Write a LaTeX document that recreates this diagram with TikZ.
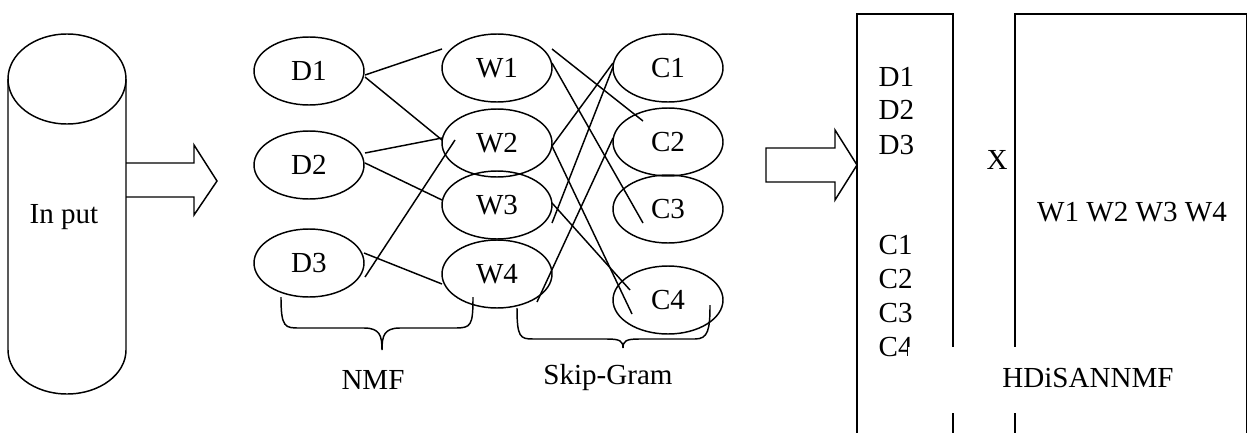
\documentclass[tikz,border=0pt]{standalone}
\usepackage{fontspec}
\setmainfont{Liberation Serif}
\usetikzlibrary{shapes.geometric}
\begin{document}
\begin{tikzpicture}[x=0.75pt,y=-0.75pt,line width=1.1pt,
  every node/.style={font=\fontsize{21.8}{26}\selectfont},
  oval/.style={draw,ellipse,minimum width=82.5pt,minimum height=51pt,inner sep=0pt},
  conn/.style={line width=1.1pt},
  lbl/.style={inner sep=0pt,anchor=west}]
\useasboundingbox (0,0) rectangle (1248,432);
% cylinder
\draw (67,79) ellipse [x radius=59,y radius=45];
\draw (8,79) -- (8,350) arc[start angle=180,end angle=360,x radius=59,y radius=-44] -- (126,79);
\node (inp) at (64,217) {In put};
% arrow 1
\draw (126,163) -- (194,163) -- (194,145) -- (217,181) -- (194,215) -- (194,197) -- (126,197);
% ellipses
\node[oval] (D1) at (309,71) {D1};
\node[oval] (D2) at (309,165) {D2};
\node[oval] (D3) at (309,263) {D3};
\node[oval] (W1) at (497,68) {W1};
\node[oval] (W2) at (497,143) {W2};
\node[oval] (W3) at (497,205) {W3};
\node[oval] (W4) at (497,274) {W4};
\node[oval] (C1) at (668,68) {C1};
\node[oval] (C2) at (668,142) {C2};
\node[oval] (C3) at (668,209) {C3};
\node[oval] (C4) at (668,300) {C4};
% NMF connectors
\draw[conn] ([shift={(56,4)}]D1.center) -- ([shift={(-55,-19)}]W1.center);
\draw[conn] ([shift={(56,6)}]D1.center) -- ([shift={(-55,-3)}]W2.center);
\draw[conn] ([shift={(56,-12)}]D2.center) -- ([shift={(-55,-5)}]W2.center);
\draw[conn] ([shift={(56,-2)}]D2.center) -- ([shift={(-55,-5)}]W3.center);
\draw[conn] ([shift={(-42,-3)}]W2.center) -- ([shift={(56,14)}]D3.center);
\draw[conn] ([shift={(55,-10)}]D3.center) -- ([shift={(-55,10)}]W4.center);
% Skip-gram connectors
\draw[conn] ([shift={(55,-19)}]W1.center) -- ([shift={(-25,-21)}]C2.center);
\draw[conn] ([shift={(55,-5)}]W1.center) -- ([shift={(-25,14)}]C3.center);
\draw[conn] ([shift={(-55,-5)}]C1.center) -- ([shift={(55,3)}]W2.center);
\draw[conn] ([shift={(-55,-1)}]C1.center) -- ([shift={(55,18)}]W3.center);
\draw[conn] ([shift={(55,3)}]W2.center) -- ([shift={(-36,14)}]C4.center);
\draw[conn] ([shift={(55,-2)}]W3.center) -- ([shift={(-38,-10)}]C4.center);
\draw[conn] ([shift={(-55,-4)}]C2.center) -- ([shift={(40,28)}]W4.center);
% braces
\draw (281,297) .. controls (281,328) and (285,328) .. (300,328) -- (364,328)
  .. controls (380,328) and (382,336) .. (382,350)
  .. controls (382,336) and (384,328) .. (400,328) -- (455,328)
  .. controls (471,328) and (473,326) .. (473,297);
\draw (517,308) .. controls (517,337) and (520,339) .. (533,339) -- (607,339)
  .. controls (620,339) and (623,341) .. (623,348)
  .. controls (623,341) and (626,339) .. (639,339) -- (695,339)
  .. controls (708,339) and (710,330) .. (710,305);
\node (nmf) at (373,380) {NMF};
\node (sg) at (608,378) {Skip-Gram};
% arrow 2
\draw (766,148) -- (835,148) -- (835,130) -- (857,165) -- (835,200) -- (835,182) -- (766,182) -- cycle;
% matrices
\draw (857,440) -- (857,14) -- (953,14) -- (953,440);
\draw (1015,440) -- (1015,14) -- (1246.5,14) -- (1246.5,440);
\node[lbl] (md1) at (878,77) {D1};
\node[lbl] (md2) at (878,110) {D2};
\node[lbl] (md3) at (878,145) {D3};
\node[lbl] (mc1) at (878,245) {C1};
\node[lbl] (mc2) at (878,279) {C2};
\node[lbl] (mc3) at (878,313) {C3};
\node[lbl] (mc4) at (878,347) {C4};
\fill[white] (908,347) rectangle (1236,413);
\node (hd) at (1088,378) {HDiSANNMF};
\node (x) at (997,160) {X};
\node (ws) at (1132,212) {W1 W2 W3 W4};
\end{tikzpicture}
\end{document}
